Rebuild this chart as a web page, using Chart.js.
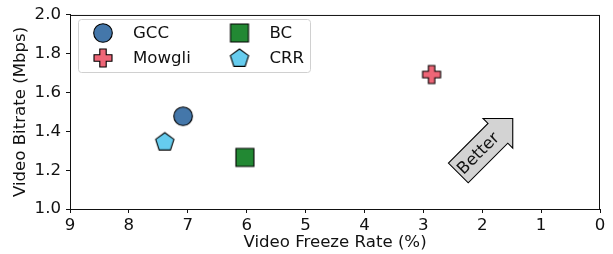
<!DOCTYPE html>
<html>
<head>
<meta charset="utf-8">
<script src="https://cdn.jsdelivr.net/npm/chart.js@4"></script>
<style>
  html, body { margin: 0; padding: 0; background: #fff; }
  #wrap { width: 613px; height: 254px; }
</style>
</head>
<body>
<div id="wrap"><canvas id="myChart" width="613" height="254"></canvas></div>
<script>
const methods = ["GCC", "Mowgli", "BC", "CRR"];
const freezeRate = [7.08, 2.86, 6.03, 7.39];
const bitrate = [1.478, 1.693, 1.266, 1.347];
const colors = ["#4477aa", "#ee6677", "#228833", "#66ccee"];
const shapes = ["circle", "plus", "square", "pentagon"];
const xTicks = [0, 1, 2, 3, 4, 5, 6, 7, 8, 9];
const yTicks = [1.0, 1.2, 1.4, 1.6, 1.8, 2.0];

const FONT = "DejaVu Sans";
const FS = 16.6;

function drawShape(ctx, shape, cx, cy) {
  ctx.beginPath();
  if (shape === "circle") {
    ctx.arc(cx, cy, 9.3, 0, Math.PI * 2);
  } else if (shape === "square") {
    ctx.rect(cx - 9, cy - 9, 18, 18);
  } else if (shape === "plus") {
    const a = 9, b = 3.2;
    ctx.moveTo(cx - b, cy - a);
    ctx.lineTo(cx + b, cy - a);
    ctx.lineTo(cx + b, cy - b);
    ctx.lineTo(cx + a, cy - b);
    ctx.lineTo(cx + a, cy + b);
    ctx.lineTo(cx + b, cy + b);
    ctx.lineTo(cx + b, cy + a);
    ctx.lineTo(cx - b, cy + a);
    ctx.lineTo(cx - b, cy + b);
    ctx.lineTo(cx - a, cy + b);
    ctx.lineTo(cx - a, cy - b);
    ctx.lineTo(cx - b, cy - b);
  } else if (shape === "pentagon") {
    const r = 9.6;
    for (let i = 0; i < 5; i++) {
      const ang = -Math.PI / 2 + i * 2 * Math.PI / 5;
      const px = cx + r * Math.cos(ang), py = cy + 0.6 + r * Math.sin(ang);
      if (i === 0) ctx.moveTo(px, py); else ctx.lineTo(px, py);
    }
  }
  ctx.closePath();
}

function makeMarker(shape, fill) {
  const c = document.createElement("canvas");
  c.width = 24; c.height = 24;
  const ctx = c.getContext("2d");
  drawShape(ctx, shape, 12, 12);
  ctx.fillStyle = fill;
  ctx.fill();
  ctx.lineWidth = 1.1;
  ctx.strokeStyle = "#000";
  ctx.lineJoin = "miter";
  ctx.stroke();
  return c;
}

const markers = methods.map((m, i) => makeMarker(shapes[i], colors[i]));

const datasets = methods.map((m, i) => ({
  label: m,
  data: [{ x: freezeRate[i], y: bitrate[i] }],
  backgroundColor: colors[i],
  borderColor: "#000",
  pointStyle: markers[i],
  pointRadius: 12,
  pointHoverRadius: 12,
}));

// frame, legend and the "Better" arrow
const extras = {
  id: "extras",
  afterDraw(chart) {
    const ctx = chart.ctx;
    const a = chart.chartArea;
    ctx.save();
    ctx.strokeStyle = "#111";
    ctx.lineWidth = 1;
    ctx.strokeRect(a.left + 0.5, a.top + 0.5, a.right - a.left - 1, a.bottom - a.top);

    // legend
    const lx = 78.5, ly = 19.5, lw = 232, lh = 53;
    ctx.beginPath();
    ctx.roundRect(lx, ly, lw, lh, 3);
    ctx.fillStyle = "rgba(255,255,255,0.8)";
    ctx.fill();
    ctx.strokeStyle = "#d0d0d0";
    ctx.stroke();
    const pos = [[103, 33], [103, 58], [239.5, 33], [239.5, 58]];
    ctx.font = FS + "px '" + FONT + "'";
    ctx.textBaseline = "middle";
    methods.forEach((m, i) => {
      ctx.drawImage(markers[i], pos[i][0] - 12, pos[i][1] - 12);
      ctx.fillStyle = "#111";
      ctx.fillText(m, pos[i][0] + 30, pos[i][1] + 1);
    });

    // arrow
    const cx = chart.scales.x.getPixelForValue(2.07);
    const cy = chart.scales.y.getPixelForValue(1.288);
    ctx.translate(cx, cy);
    ctx.rotate(-Math.PI / 4);
    ctx.beginPath();
    ctx.moveTo(-28, -14);
    ctx.lineTo(28, -14);
    ctx.lineTo(28, -21);
    ctx.lineTo(49, 0);
    ctx.lineTo(28, 21);
    ctx.lineTo(28, 14);
    ctx.lineTo(-28, 14);
    ctx.closePath();
    ctx.fillStyle = "#d3d3d3";
    ctx.fill();
    ctx.strokeStyle = "#000";
    ctx.lineWidth = 1.1;
    ctx.stroke();
    ctx.fillStyle = "#111";
    ctx.textAlign = "center";
    ctx.textBaseline = "middle";
    ctx.fillText("Better", 0, 1);
    ctx.restore();
  },
};

const config = {
  type: "scatter",
  data: { datasets: datasets },
  options: {
    responsive: false,
    animation: false,
    layout: { padding: { top: 11, right: 12, left: 0, bottom: 0 } },
    plugins: { legend: { display: false }, tooltip: { enabled: false } },
    scales: {
      x: {
        type: "linear",
        reverse: true,
        min: 0,
        max: 9,
        afterFit: (s) => { s.height = 45; },
        afterBuildTicks: (s) => { s.ticks = xTicks.map((v) => ({ value: v })); },
        ticks: { color: "#111", font: { family: FONT, size: FS }, padding: 3, callback: (v) => String(v) },
        grid: { display: true, drawOnChartArea: false, drawTicks: true, tickLength: 4, color: "#111" },
        border: { display: true, color: "#111" },
        title: { display: true, text: "Video Freeze Rate (%)", color: "#111", font: { family: FONT, size: FS }, padding: { top: 0, bottom: 1 } },
      },
      y: {
        type: "linear",
        min: 1.0,
        max: 2.0,
        afterFit: (s) => { s.width = 70; },
        afterBuildTicks: (s) => { s.ticks = yTicks.map((v) => ({ value: v })); },
        ticks: { color: "#111", font: { family: FONT, size: FS }, padding: 5, callback: (v) => Number(v).toFixed(1) },
        grid: { display: true, drawOnChartArea: false, drawTicks: true, tickLength: 4, color: "#111" },
        border: { display: true, color: "#111" },
        title: { display: true, text: "Video Bitrate (Mbps)", color: "#111", font: { family: FONT, size: FS }, padding: { top: 11, bottom: 0 } },
      },
    },
  },
  plugins: [extras],
};

const myChart = new Chart(document.getElementById("myChart"), config);
</script>
</body>
</html>
